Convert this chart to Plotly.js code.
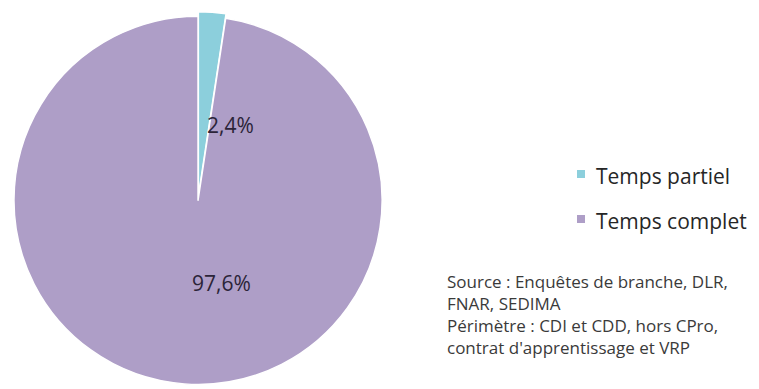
<!DOCTYPE html>
<html><head><meta charset="utf-8">
<script src="https://cdn.plot.ly/plotly-3.0.1.min.js"></script>
<style>html,body{margin:0;padding:0;background:#fff}#chart{width:759px;height:389px}</style>
</head><body><div id="chart"></div>
<script>
const labels = ["Temps partiel", "Temps complet"];
const values = [2.4, 97.6];
const colors = ["#8ccfdc", "#ae9ec7"];
const sourceLines = ["Source : Enquêtes de branche, DLR,", "FNAR, SEDIMA", "Périmètre : CDI et CDD, hors CPro,", "contrat d'apprentissage et VRP"];

const W = 759, H = 389;
const fmt = v => v.toFixed(1).replace('.', ',') + '%';
const font = "'Open Sans', Lato, sans-serif";
const px = x => x / W, py = y => 1 - y / H;

const trace = {
  type: 'pie', labels: labels, values: values, sort: false, direction: 'clockwise', rotation: 0,
  marker: {colors: colors, line: {color: '#ffffff', width: 1.5}},
  pull: [0.025, 0],
  textinfo: 'none', hoverinfo: 'label+percent',
  domain: {x: [0.0123, 0.5095], y: [0, 0.97]}
};

// percent labels
const labelPos = [[205, 109], [190, 299]];
const annotations = values.map((v, i) => ({
  text: fmt(v), x: px(labelPos[i][0]), y: py(labelPos[i][1]), xref: 'paper', yref: 'paper',
  showarrow: false, font: {family: font, size: 21, color: '#2b2438'}
}));

// legend (drawn manually for spacing)
const legendY = [176, 221];
const shapes = [];
labels.forEach((lab, i) => {
  annotations.push({
    text: lab, x: px(594), y: py(legendY[i]), xref: 'paper', yref: 'paper',
    xanchor: 'left', yanchor: 'middle', showarrow: false,
    font: {family: font, size: 21, color: '#262626'}
  });
  shapes.push({
    type: 'rect', xref: 'paper', yref: 'paper',
    x0: px(577), x1: px(585), y0: py(legendY[i] - 6), y1: py(legendY[i] + 2),
    fillcolor: colors[i], line: {width: 0}
  });
});

// source note
sourceLines.forEach((line, i) => {
  annotations.push({
    text: line, x: px(445), y: py(281 + i * 22), xref: 'paper', yref: 'paper',
    xanchor: 'left', yanchor: 'middle', align: 'left', showarrow: false,
    font: {family: font, size: 17, color: '#3a3a3a'}
  });
});

const layout = {
  width: W, height: H, margin: {l: 0, r: 0, t: 0, b: 0},
  paper_bgcolor: '#ffffff', showlegend: false,
  annotations: annotations, shapes: shapes
};
Plotly.newPlot('chart', [trace], layout, {displayModeBar: false, staticPlot: true});
</script></body></html>
